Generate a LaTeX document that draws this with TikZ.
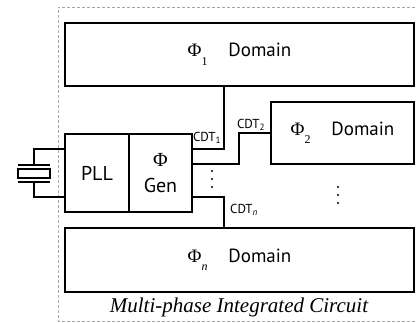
\documentclass[tikz,border=0pt]{standalone}
\usepackage{fontspec}
\setmainfont{PT Sans}
\newfontfamily\capfont{Liberation Serif}
\usetikzlibrary{calc}
\tikzstyle{block}=[draw, line width=1.3pt, inner sep=0pt]
\tikzstyle{wire}=[line width=1.1pt]
\tikzstyle{chip}=[gray!70, dash pattern=on 3pt off 2pt, line width=0.8pt]
\tikzstyle{cdt}=[font=\fontsize{13}{15}\selectfont, inner sep=0pt]
\newcommand{\Ph}[1]{{\capfont Φ\raisebox{-0.45em}{\fontsize{12}{14}\selectfont #1}}}
\newcommand{\xtalSym}[2]{
	\draw[wire] ($#1+(-#2,-8.5)$) -- ($#1+(#2,-8.5)$);
	\draw[wire] ($#1+(-#2,-4.5)$) rectangle ($#1+(#2,4.5)$);
	\draw[wire] ($#1+(-#2,8.5)$) -- ($#1+(#2,8.5)$);
}
\newcommand{\vdotsAt}[1]{
	\foreach \k in {-8,0,8} \fill ($#1+(0,\k)$) circle (1.2);
}
\begin{document}
\begin{tikzpicture}[x=1pt, y=-1pt, font=\fontsize{19}{22}\selectfont]
	\clip (0,0) rectangle (416,323);
	\draw[chip] (430,7) -- (58,7) -- (58,321) -- (430,321);
	\node[block, minimum width=349pt, minimum height=63pt] (dom1) at (239.5,54.5) {\Ph{1}\hspace{1.1em}Domain};
	\node[block, minimum width=143pt, minimum height=62pt] (dom2) at (342.5,133) {\Ph{2}\hspace{1.1em}Domain};
	\node[block, minimum width=349pt, minimum height=64pt] (domn) at (239.5,260) {\Ph{\itshape n}\hspace{1.1em}Domain};
	\node[block, minimum width=64pt, minimum height=78pt, font=\fontsize{20}{26}\selectfont] (pll) at (97,173) {PLL};
	\node[block, minimum width=63pt, minimum height=78pt, align=center, font=\fontsize{20}{26}\selectfont] (gen) at (160.5,173) {{\capfont Φ}\\Gen};
	\draw[wire] (gen.east |- 0,149) -| (dom1.south -| 224,0);
	\draw[wire] (gen.east |- 0,164) -| (239,133) -- (dom2.west |- 0,133);
	\draw[wire] (gen.east |- 0,197) -| (domn.north -| 224,0);
	\node[cdt] (cdt1) at (207,138) {CDT\textsubscript{1}};
	\node[cdt] (cdt2) at (251,125) {CDT\textsubscript{2}};
	\node[cdt] (cdtn) at (244,210) {CDT\textsubscript{\itshape n}};
	\vdotsAt{(212,179)}
	\vdotsAt{(338,195)}
	% crystal
	\draw[wire] (pll.west |- 0,149) -| (34,165);
	\draw[wire] (pll.west |- 0,197) -| (34,182);
	\xtalSym{(34,173.5)}{16}
	\node[font=\capfont\itshape\fontsize{21}{24}\selectfont] (cap) at (239,307) {Multi-phase Integrated Circuit};
\end{tikzpicture}
\end{document}
